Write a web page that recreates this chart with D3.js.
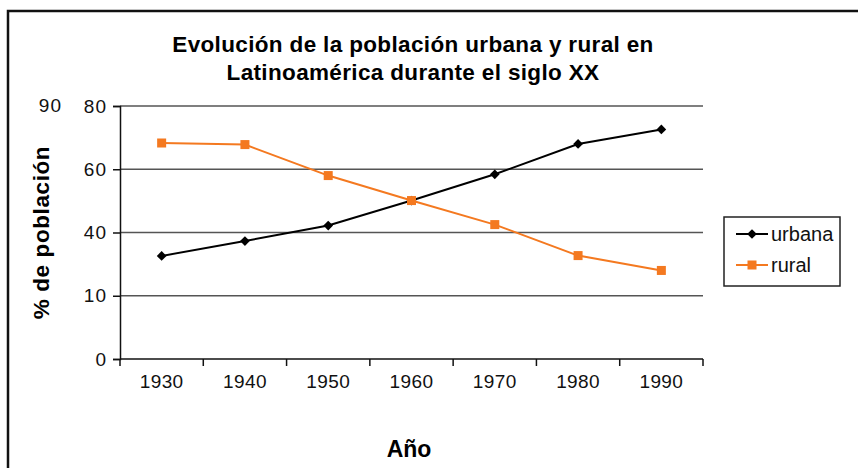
<!DOCTYPE html>
<html>
<head>
<meta charset="utf-8">
<script src="https://cdn.jsdelivr.net/npm/d3@7"></script>
<style>
  body { margin: 0; background: #fff; }
  svg { display: block; font-family: Arial, "Liberation Sans", sans-serif; }
</style>
</head>
<body>
<svg width="858" height="468"></svg>
<script>
// datos
var years = ["1930", "1940", "1950", "1960", "1970", "1980", "1990"];
var urbana = [32.6, 37.3, 42.2, 50.1, 58.4, 68.0, 72.6];
var rural = [68.3, 67.8, 58.0, 50.1, 42.5, 32.7, 28.0];
var yTicks = [0, 20, 40, 60, 80];
var yTickLabels = ["0", "10", "40", "60", "80"];
var titleLines = ["Evolución de la población urbana y rural en", "Latinoamérica durante el siglo XX"];

var svg = d3.select("svg");
var plot = { left: 120, right: 703, top: 106, bottom: 359 };
var orange = "#f47920";
var font = "Arial, 'Liberation Sans', sans-serif";

// marco exterior
svg.append("rect")
    .attr("x", 8).attr("y", 11)
    .attr("width", 870).attr("height", 480)
    .attr("fill", "none").attr("stroke", "#111").attr("stroke-width", 2.5);

var x = d3.scaleBand().domain(years).range([plot.left, plot.right]);
var y = d3.scaleLinear().domain([0, 80]).range([plot.bottom, plot.top]);

// líneas de cuadrícula
svg.append("g").selectAll("line")
    .data(yTicks.filter(function(d) { return d > 0; }))
    .enter().append("line")
    .attr("x1", plot.left).attr("x2", plot.right)
    .attr("y1", function(d) { return y(d); })
    .attr("y2", function(d) { return y(d); })
    .attr("stroke", "#555").attr("stroke-width", 1.5);

// eje y
var yAxis = d3.axisLeft(y)
    .tickValues(yTicks)
    .tickSize(7)
    .tickPadding(6)
    .tickFormat(function(d, i) { return yTickLabels[i]; });
var gy = svg.append("g").attr("transform", "translate(" + plot.left + ",0)").call(yAxis);
gy.select(".domain").attr("stroke", "#111").attr("stroke-width", 1.5);
gy.selectAll(".tick line").attr("stroke", "#111").attr("stroke-width", 1.5);
gy.selectAll(".tick text").attr("font-size", 19).attr("fill", "#111")
    .attr("letter-spacing", 1).attr("font-family", font);

svg.append("text")
    .attr("x", 62).attr("y", y(80))
    .attr("dy", "0.32em")
    .attr("text-anchor", "end")
    .attr("font-size", 19).attr("letter-spacing", 1).attr("fill", "#111")
    .text("90");

// eje x
var xAxis = d3.axisBottom(x).tickSize(0).tickPadding(16);
var gx = svg.append("g").attr("transform", "translate(0," + plot.bottom + ")").call(xAxis);
gx.select(".domain").remove();
gx.selectAll(".tick text").attr("font-size", 19).attr("fill", "#111")
    .attr("letter-spacing", 0.4).attr("font-family", font);
svg.append("line")
    .attr("x1", plot.left).attr("x2", plot.right)
    .attr("y1", plot.bottom).attr("y2", plot.bottom)
    .attr("stroke", "#111").attr("stroke-width", 1.5);
var bounds = years.map(function(d) { return x(d); }).concat([plot.right]);
svg.append("g").selectAll("line")
    .data(bounds)
    .enter().append("line")
    .attr("x1", function(d) { return d; }).attr("x2", function(d) { return d; })
    .attr("y1", plot.bottom).attr("y2", plot.bottom + 7)
    .attr("stroke", "#111").attr("stroke-width", 1.5);

// series
var cx = function(d, i) { return x(years[i]) + x.bandwidth() / 2; };
var line = d3.line().x(cx).y(function(d) { return y(d); });

svg.append("path").datum(urbana)
    .attr("d", line).attr("fill", "none")
    .attr("stroke", "#000").attr("stroke-width", 2);
svg.append("path").datum(rural)
    .attr("d", line).attr("fill", "none")
    .attr("stroke", orange).attr("stroke-width", 2);

var diamond = d3.symbol().type(d3.symbolDiamond2).size(60);
svg.append("g").selectAll("path")
    .data(urbana).enter().append("path")
    .attr("d", diamond)
    .attr("transform", function(d, i) { return "translate(" + cx(d, i) + "," + y(d) + ")"; })
    .attr("fill", "#000");

svg.append("g").selectAll("rect")
    .data(rural).enter().append("rect")
    .attr("x", function(d, i) { return cx(d, i) - 4.5; })
    .attr("y", function(d) { return y(d) - 4.5; })
    .attr("width", 9).attr("height", 9)
    .attr("fill", orange);

// título
svg.append("text")
    .attr("x", 413).attr("y", 52)
    .attr("text-anchor", "middle")
    .attr("font-size", 22.5).attr("font-weight", "bold")
    .attr("letter-spacing", 0.35)
    .selectAll("tspan").data(titleLines).enter().append("tspan")
    .attr("x", 413)
    .attr("dy", function(d, i) { return i ? 28 : 0; })
    .text(function(d) { return d; });

// títulos de ejes
svg.append("text")
    .attr("transform", "translate(49," + ((plot.top + plot.bottom) / 2) + ") rotate(-90)")
    .attr("text-anchor", "middle")
    .attr("font-size", 22.5).attr("font-weight", "bold")
    .attr("letter-spacing", 0.6)
    .text("% de población");

svg.append("text")
    .attr("x", 409).attr("y", 457)
    .attr("text-anchor", "middle")
    .attr("font-size", 23).attr("font-weight", "bold")
    .text("Año");

// leyenda
var legend = svg.append("g");
legend.append("rect")
    .attr("x", 724).attr("y", 217)
    .attr("width", 116).attr("height", 69)
    .attr("fill", "#fff").attr("stroke", "#222").attr("stroke-width", 1.5);
var items = [
    { name: "urbana", color: "#000", y: 234 },
    { name: "rural", color: orange, y: 265 }
];
items.forEach(function(it) {
    legend.append("line")
        .attr("x1", 736).attr("x2", 768)
        .attr("y1", it.y).attr("y2", it.y)
        .attr("stroke", it.color).attr("stroke-width", 2);
    if (it.name === "urbana") {
        legend.append("path").attr("d", diamond)
            .attr("transform", "translate(752," + it.y + ")")
            .attr("fill", it.color);
    } else {
        legend.append("rect")
            .attr("x", 747.5).attr("y", it.y - 4.5)
            .attr("width", 9).attr("height", 9)
            .attr("fill", it.color);
    }
    legend.append("text")
        .attr("x", 771).attr("y", it.y + 7)
        .attr("font-size", 20).attr("fill", "#111")
        .text(it.name);
});
</script>
</body>
</html>
